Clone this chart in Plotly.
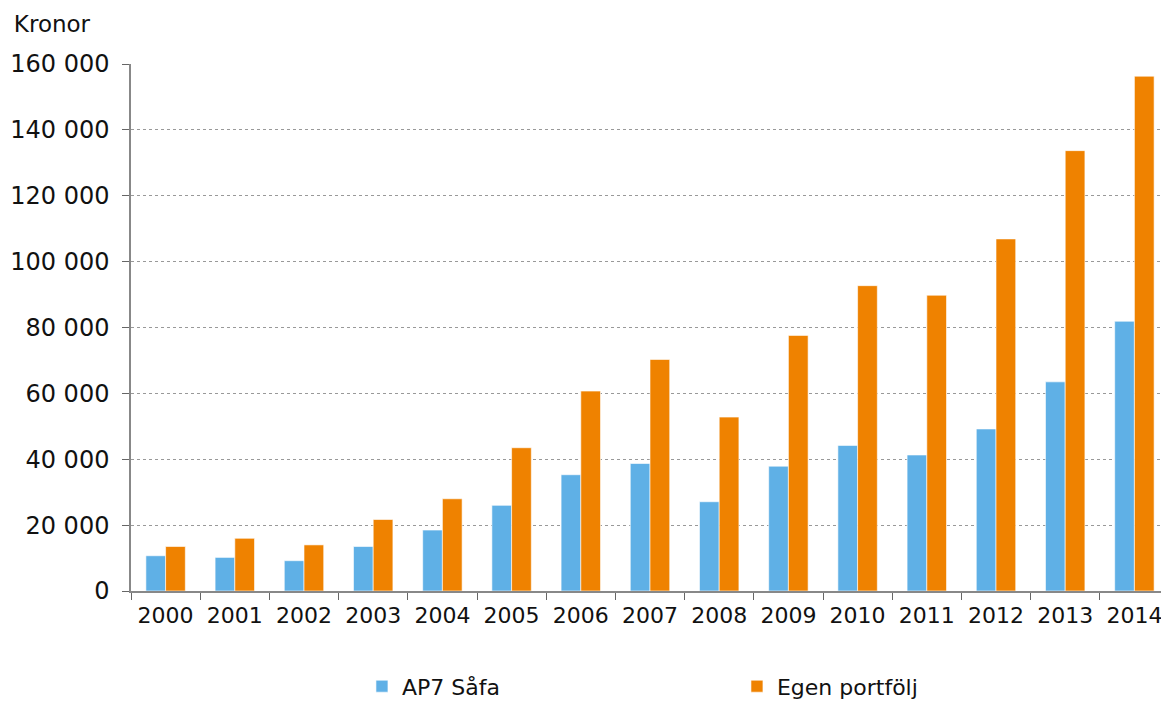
import plotly.graph_objects as go

years = [str(y) for y in range(2000, 2015)]
ap7_safa = [10700, 10200, 9200, 13500, 18500, 26000, 35300, 38700, 27100,
            37900, 44200, 41300, 49200, 63500, 81900]
egen_portfolj = [13500, 16000, 14000, 21700, 28000, 43500, 60700, 70300, 52800,
                 77600, 92700, 89800, 106900, 133700, 156300]
y_ticks = [0, 20000, 40000, 60000, 80000, 100000, 120000, 140000, 160000]
y_tick_text = ["0", "20 000", "40 000", "60 000", "80 000", "100 000",
               "120 000", "140 000", "160 000"]

font_family = "DejaVu Sans, Verdana, sans-serif"

fig = go.Figure()
fig.add_trace(go.Bar(x=years, y=ap7_safa, name="AP7 Såfa",
                     marker=dict(color="#5FB0E6", line=dict(color="rgba(255,255,255,0.6)", width=1))))
fig.add_trace(go.Bar(x=years, y=egen_portfolj, name="Egen portfölj",
                     marker=dict(color="#EF8200", line=dict(color="rgba(255,255,255,0.6)", width=1))))

# page body has an 8px margin, so the figure is shifted by 8px in the window
fig.update_layout(
    width=1169, height=707,
    paper_bgcolor="white", plot_bgcolor="white",
    margin=dict(l=123, r=8, t=56, b=121),
    barmode="group", bargap=0.43, bargroupgap=0,
    font=dict(family=font_family, size=22, color="#111"),
    title=dict(text="Kronor", x=0.005, xanchor="left", xref="container",
               y=0.978, yanchor="middle", yref="container",
               font=dict(family=font_family, size=23, color="#111")),
    legend=dict(orientation="h", x=0.2225, xanchor="left", y=-0.181, yanchor="middle",
                entrywidth=330, entrywidthmode="pixels",
                font=dict(family=font_family, size=22, color="#111")),
    showlegend=True,
)
fig.update_xaxes(showline=True, linecolor="#888", linewidth=1.5,
                 ticks="outside", tickson="boundaries", ticklen=7, tickcolor="#666",
                 tickfont=dict(size=22), showgrid=False, automargin=False,
                 ticklabelstandoff=4)
fig.update_yaxes(range=[0, 160000], tickvals=y_ticks, ticktext=y_tick_text,
                 showline=True, linecolor="#888", linewidth=1.5,
                 ticks="outside", ticklen=7, tickcolor="#666",
                 showgrid=True, gridcolor="#999", griddash="dot", gridwidth=1,
                 zeroline=False, tickfont=dict(size=24), automargin=False,
                 ticklabelstandoff=8)

fig.write_html("out.html")
